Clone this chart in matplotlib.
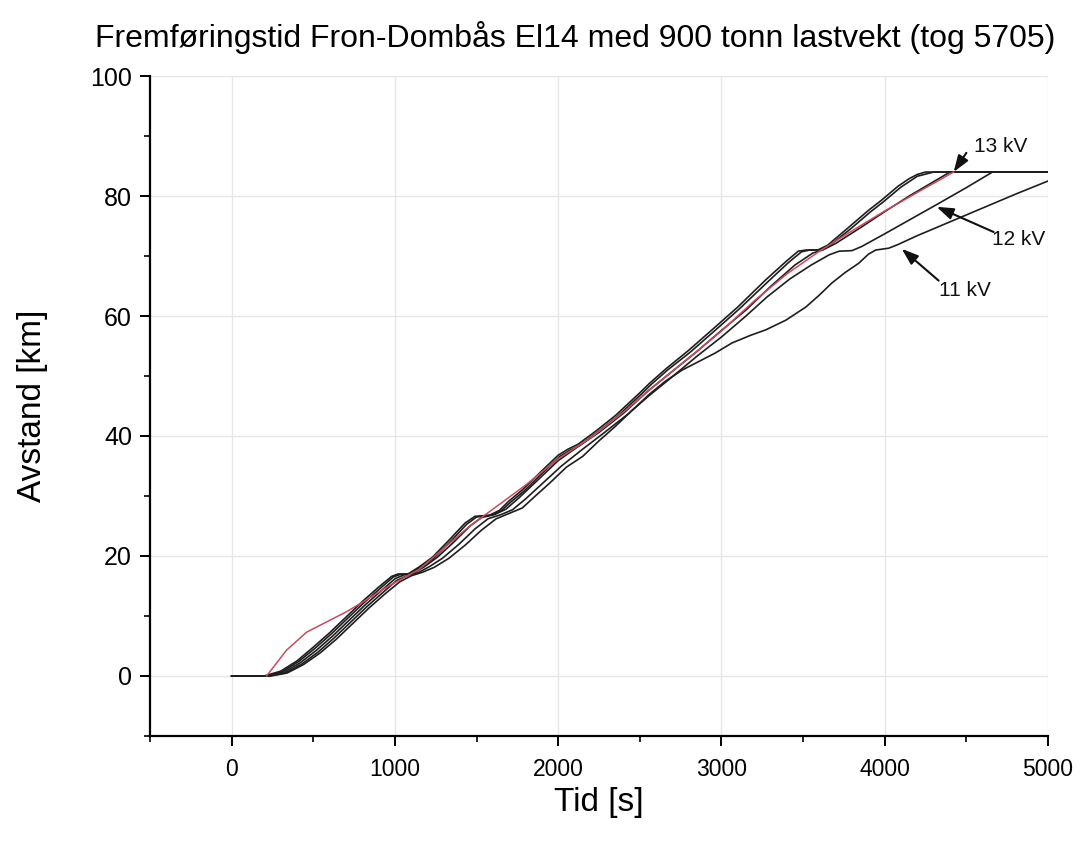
import matplotlib
matplotlib.use("Agg")
import matplotlib.pyplot as plt
from matplotlib.ticker import MultipleLocator

plt.rcParams['font.family'] = ['Liberation Sans', 'DejaVu Sans']

title = "Fremføringstid Fron-Dombås El14 med 900 tonn lastvekt (tog 5705)"
xlabel = "Tid [s]"
ylabel = "Avstand [km]"

# fastest black curve
t_a = [0, 200, 300, 400, 500, 600, 700, 800, 900, 980, 1020, 1080, 1150, 1230, 1330, 1430, 1490, 1580, 1640,
       1700, 1780, 1900, 2000, 2060, 2120, 2230, 2350, 2500, 2560, 2660, 2800, 2980, 3100, 3270, 3400, 3470,
       3520, 3590, 3650, 3780, 3900, 3980, 4080, 4150, 4200, 4250, 5000]
d_a = [0, 0, 0.8, 2.5, 4.8, 7.2, 9.8, 12.4, 14.8, 16.6, 17, 17, 18.2, 19.8, 22.6, 25.5, 26.6, 26.8, 27.6,
       29.2, 31, 34.2, 36.8, 37.8, 38.6, 40.8, 43.4, 47.2, 48.8, 51.2, 54.3, 58.6, 61.5, 66, 69.2, 70.8,
       71, 71, 71.8, 74.8, 77.6, 79.3, 81.6, 82.9, 83.6, 84, 84]

# second black curve
t_b = [0, 210, 310, 410, 510, 610, 710, 810, 910, 990, 1030, 1090, 1160, 1240, 1340, 1440, 1500, 1590, 1650,
       1710, 1790, 1910, 2010, 2070, 2130, 2240, 2360, 2510, 2570, 2670, 2810, 2990, 3110, 3280, 3410, 3490,
       3540, 3600, 3660, 3790, 3910, 3990, 4100, 4200, 4300, 5000]
d_b = [0, 0, 0.7, 2.4, 4.6, 7.0, 9.6, 12.2, 14.6, 16.5, 16.9, 17, 18.1, 19.7, 22.4, 25.3, 26.5, 26.8, 27.5,
       29, 30.8, 34, 36.6, 37.6, 38.4, 40.6, 43.2, 47, 48.6, 51, 54, 58.3, 61.2, 65.6, 68.9, 70.7,
       71, 71, 71.7, 74.5, 77.3, 79, 81.5, 83.3, 84, 84]

# 13 kV
t_13 = [0, 220, 320, 420, 520, 620, 720, 820, 920, 1000, 1060, 1110, 1180, 1260, 1360, 1460, 1530, 1610, 1680,
        1760, 1900, 2000, 2120, 2250, 2400, 2550, 2700, 2850, 3000, 3150, 3300, 3450, 3560, 3620, 3700, 3850,
        4000, 4150, 4300, 4400, 5000]
d_13 = [0, 0, 0.6, 2.2, 4.3, 6.7, 9.3, 11.9, 14.3, 16.2, 16.9, 17.1, 18.2, 19.8, 22.3, 25, 26.4, 26.9, 27.8,
        29.7, 33.3, 35.9, 38.2, 40.6, 43.8, 47.5, 50.8, 54.1, 57.6, 61, 64.9, 68.5, 70.5, 71, 72.1, 74.7,
        77.4, 80, 82.4, 84, 84]

# 12 kV
t_12 = [0, 230, 330, 430, 530, 630, 730, 830, 930, 1010, 1080, 1140, 1210, 1290, 1390, 1490, 1570, 1650, 1720,
        1800, 1920, 2020, 2140, 2270, 2420, 2560, 2700, 2850, 3000, 3150, 3280, 3420, 3550, 3660, 3720, 3800,
        3860, 4000, 4150, 4320, 4500, 4660, 5000]
d_12 = [0, 0, 0.5, 2, 4, 6.4, 9, 11.6, 14, 15.9, 16.8, 17.2, 18.2, 19.6, 21.9, 24.5, 26.2, 26.9, 27.7,
        29.5, 32.5, 35, 37.6, 40.3, 43.5, 46.8, 49.9, 53.3, 56.5, 60, 63.2, 66.2, 68.5, 70.2, 70.8, 70.9,
        71.6, 73.7, 76, 78.6, 81.4, 84, 84]

# 11 kV
t_11 = [0, 240, 340, 440, 540, 640, 740, 840, 940, 1030, 1100, 1170, 1240, 1330, 1430, 1530, 1620, 1700, 1780,
        1860, 1950, 2050, 2150, 2250, 2350, 2450, 2560, 2660, 2760, 2860, 2960, 3064, 3180, 3272, 3394, 3517,
        3600, 3676, 3760, 3841, 3900, 3945, 4024, 4080, 4200, 4400, 4600, 4800, 5000]
d_11 = [0, 0, 0.5, 1.9, 3.8, 6.1, 8.7, 11.3, 13.7, 15.7, 16.7, 17.3, 18.1, 19.6, 21.8, 24.3, 26.2, 27.1, 28,
        30, 32.2, 34.8, 36.6, 39.2, 41.6, 44.2, 47, 49.2, 51, 52.4, 53.8, 55.5, 56.8, 57.7, 59.3, 61.5,
        63.5, 65.5, 67.3, 68.8, 70.3, 71, 71.3, 71.9, 73.4, 75.7, 78, 80.3, 82.5]

# red (measured) curve
t_red = [214, 336, 459, 581, 703, 826, 950, 1050, 1150, 1300, 1450, 1600, 1800, 2000, 2200, 2400, 2600,
         2800, 3000, 3200, 3400, 3600, 3800, 4000, 4200, 4422]
d_red = [0, 4.3, 7.3, 9, 10.7, 12.7, 14.8, 16.3, 17.8, 21.3, 24.8, 27.8, 31.8, 36.2, 39.7, 44, 48.6,
         53, 57.5, 62.5, 67, 70.8, 74.2, 77.5, 80.6, 84]

labels = ["13 kV", "12 kV", "11 kV"]
label_pos = [(4710, 88.2), (4820, 72.7), (4490, 64.3)]
arrow_tip = [(4422, 84), (4318, 78.2), (4104, 71.2)]
arrow_tail = [(4500, 87.2), (4667, 74.0), (4330, 65.9)]

fig = plt.figure(figsize=(10.84, 8.41), dpi=100)
ax = fig.add_axes([0.1384, 0.1249, 0.8284, 0.7847])

blk = '#1e1e1e'
for t, d in [(t_11, d_11), (t_12, d_12), (t_13, d_13), (t_b, d_b), (t_a, d_a)]:
    ax.plot(t, d, color=blk, lw=1.2, solid_joinstyle='round')
ax.plot(t_red, d_red, color='#cc4a5e', lw=1.1)

for lab, pos, tip, tail in zip(labels, label_pos, arrow_tip, arrow_tail):
    ax.text(pos[0], pos[1], lab, fontsize=15, ha='center', va='center', color='#111111')
    ax.annotate('', xy=tip, xytext=tail,
                arrowprops=dict(arrowstyle='-|>,head_length=1.0,head_width=0.35', color='#111111', lw=1.5,
                                shrinkA=0, shrinkB=0))

ax.set_xlim(-500, 5000)
ax.set_ylim(-10, 100)
ax.xaxis.set_major_locator(MultipleLocator(1000))
ax.xaxis.set_minor_locator(MultipleLocator(500))
ax.yaxis.set_major_locator(MultipleLocator(20))
ax.yaxis.set_minor_locator(MultipleLocator(10))
ax.grid(True, which='major', color='#e6e6e6', lw=1.0)
ax.set_axisbelow(True)
for s in ['top', 'right']:
    ax.spines[s].set_visible(False)
for s in ['left', 'bottom']:
    ax.spines[s].set_linewidth(1.6)
ax.tick_params(which='major', direction='out', length=7, width=1.4, pad=6)
ax.tick_params(which='minor', direction='out', length=4, width=1.2)
ax.tick_params(axis='x', labelsize=16.5, pad=9)
ax.tick_params(axis='y', labelsize=18, pad=6)

ax.set_xlabel(xlabel, fontsize=24, labelpad=4)
ax.set_ylabel(ylabel, fontsize=24, labelpad=30)
fig.text(0.5305, 0.955, title, fontsize=23, ha='center', va='center')

fig.savefig('out.png', dpi=100)
